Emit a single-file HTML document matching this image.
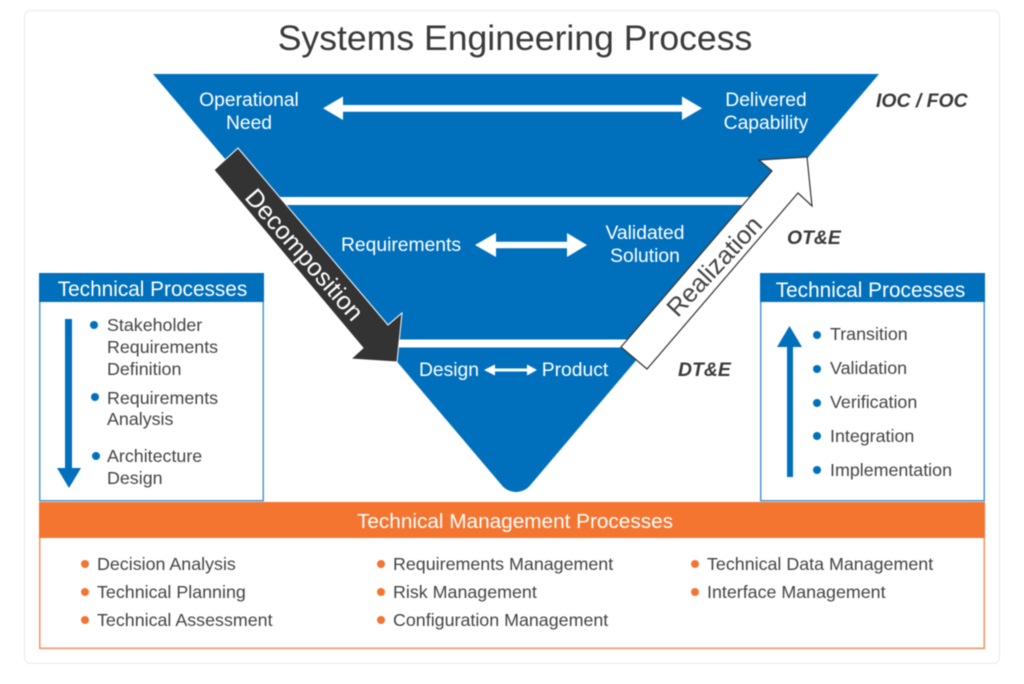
<!DOCTYPE html>
<html><head><meta charset="utf-8"><style>
html,body{margin:0;padding:0;background:#fff;width:1024px;height:684px;overflow:hidden}
svg{display:block;filter:blur(.5px)}
text{font-family:"Liberation Sans",Arial,sans-serif}
.b{font-size:17.85px;fill:#444}
.w{font-size:19.3px;fill:#fff}
.h{font-size:20.8px;fill:#fff}
.i{font-size:19.4px;font-weight:bold;font-style:italic;fill:#3a3a3a}
</style></head><body>
<svg width="1024" height="684" viewBox="0 0 1024 684" xmlns="http://www.w3.org/2000/svg">
<rect x="24.5" y="10.5" width="975" height="653" rx="6" fill="#fff" stroke="#e8e8e8"/>
<text x="515" y="50" text-anchor="middle" font-size="35.6" fill="#3a3a3a">Systems Engineering Process</text>

<path d="M153 74H879L530 485.500A18.300 18.300 0 0 1 502 485.500Z" fill="#0070bd"/>
<rect x="270" y="197" width="490" height="8" fill="#fff"/>
<rect x="390" y="339.500" width="250" height="8" fill="#fff"/>

<path fill="#fff" d="M323 108.300L343 96.500V105H682V96.500L702 108.300L682 120V111.700H343V120Z"/>
<path fill="#fff" d="M475 245L496 233V241.800H567V233L587 245L567 257V248.200H496V257Z"/>
<path fill="#fff" d="M484 370L495 364.500V368.500H527V364.500L537 370L527 375.500V371.500H495V375.500Z"/>

<text class="w" x="249" y="106" text-anchor="middle">Operational</text>
<text class="w" x="249" y="129" text-anchor="middle">Need</text>
<text class="w" x="766" y="106" text-anchor="middle">Delivered</text>
<text class="w" x="766" y="129" text-anchor="middle">Capability</text>
<text class="w" x="401" y="251" text-anchor="middle">Requirements</text>
<text class="w" x="645" y="239" text-anchor="middle">Validated</text>
<text class="w" x="645" y="262" text-anchor="middle">Solution</text>
<text class="w" x="449" y="376" text-anchor="middle">Design</text>
<text class="w" x="575" y="376" text-anchor="middle">Product</text>

<path d="M238 148L214 170L363 348L351 359L397 362L402 313L388 325Z" fill="#333" stroke="#fff" stroke-width="1"/>
<text transform="translate(304 255) rotate(49)" text-anchor="middle" y="8" font-size="25" fill="#fff">Decomposition</text>
<path d="M621 347L647 369L798 193L812 206L807 157L759 160L772 171Z" fill="#fff" stroke="#333" stroke-width="1.200"/>
<text transform="translate(714 266) rotate(-47)" text-anchor="middle" y="9" font-size="25.500" fill="#444">Realization</text>

<text class="i" x="876" y="107">IOC / FOC</text>
<text class="i" x="787" y="244">OT&amp;E</text>
<text class="i" x="678" y="376">DT&amp;E</text>

<rect x="39.750" y="273.750" width="223.500" height="227" fill="#fff" stroke="#4a98d8" stroke-width="1.500"/>
<rect x="39" y="273" width="225" height="29" fill="#0070bd"/>
<text class="h" x="152.500" y="296" text-anchor="middle">Technical Processes</text>
<path fill="#0070bd" d="M65 319H72V468H81L69 488L57 468H65Z"/>
<g fill="#0070bd"><circle cx="94" cy="325" r="4"/><circle cx="95" cy="397" r="4"/><circle cx="96" cy="456" r="4"/></g>
<text class="b" x="107" y="331">Stakeholder</text>
<text class="b" x="107" y="353">Requirements</text>
<text class="b" x="107" y="375">Definition</text>
<text class="b" x="107" y="404">Requirements</text>
<text class="b" x="107" y="425">Analysis</text>
<text class="b" x="107" y="462">Architecture</text>
<text class="b" x="107" y="484">Design</text>

<rect x="760.750" y="273.750" width="223.500" height="227" fill="#fff" stroke="#4a98d8" stroke-width="1.500"/>
<rect x="760" y="273" width="225" height="29" fill="#0070bd"/>
<text class="h" x="870.500" y="297" text-anchor="middle">Technical Processes</text>
<path fill="#0070bd" d="M787 477V347H777L789.500 326L802 347H793V477Z"/>
<g fill="#0070bd"><circle cx="817" cy="335" r="4"/><circle cx="817" cy="369" r="4"/><circle cx="817" cy="403" r="4"/><circle cx="817" cy="436" r="4"/><circle cx="817" cy="470" r="4"/></g>
<text class="b" x="830" y="340">Transition</text>
<text class="b" x="830" y="374">Validation</text>
<text class="b" x="830" y="408">Verification</text>
<text class="b" x="830" y="442">Integration</text>
<text class="b" x="830" y="476">Implementation</text>

<rect x="39.750" y="503" width="944.500" height="145.300" fill="#fff" stroke="#f79060" stroke-width="1.500"/>
<rect x="39" y="502" width="946" height="36" fill="#f47530"/>
<text class="h" x="515" y="528" text-anchor="middle" style="font-size:20.750px">Technical Management Processes</text>
<g fill="#f47530">
<circle cx="85" cy="564" r="4"/><circle cx="85" cy="592" r="4"/><circle cx="85" cy="620" r="4"/>
<circle cx="381" cy="564" r="4"/><circle cx="381" cy="592" r="4"/><circle cx="381" cy="620" r="4"/>
<circle cx="695" cy="564" r="4"/><circle cx="695" cy="592" r="4"/>
</g>
<text class="b" x="97" y="570">Decision Analysis</text>
<text class="b" x="97" y="598">Technical Planning</text>
<text class="b" x="97" y="626">Technical Assessment</text>
<text class="b" x="393" y="570">Requirements Management</text>
<text class="b" x="393" y="598">Risk Management</text>
<text class="b" x="393" y="626">Configuration Management</text>
<text class="b" x="707" y="570">Technical Data Management</text>
<text class="b" x="707" y="598">Interface Management</text>
</svg>
</body></html>
